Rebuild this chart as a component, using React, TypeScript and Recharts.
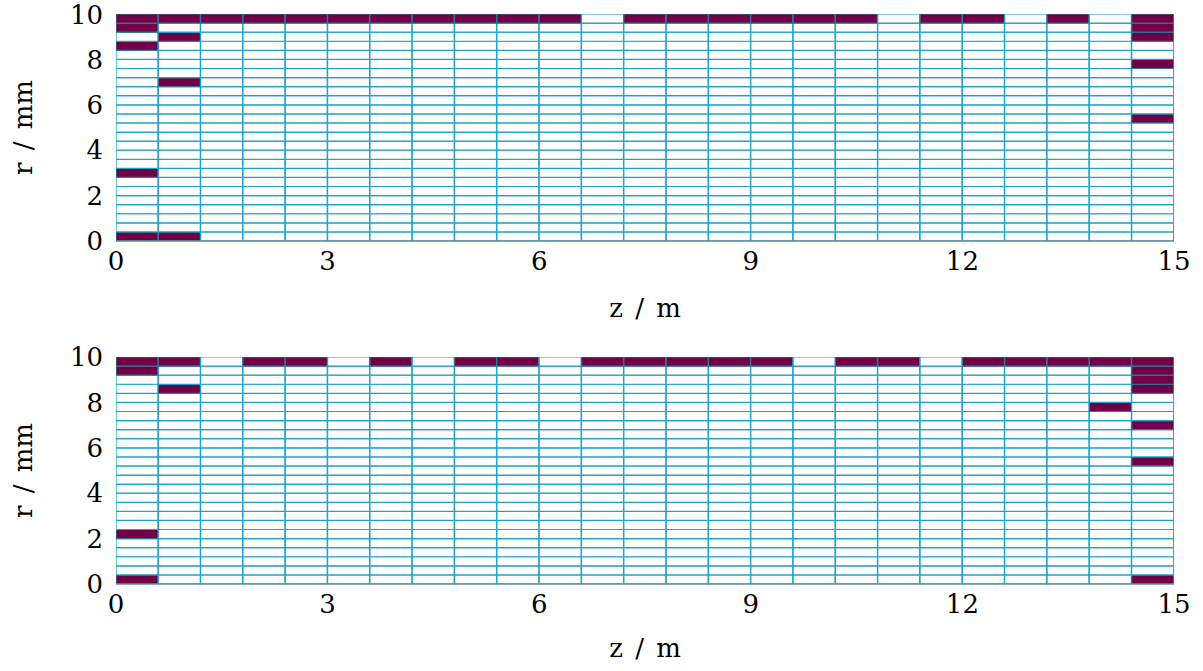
import { Bar, BarChart, Cell, XAxis, YAxis } from "recharts";

// column edges along z (m) and row edges along r (mm)
const Z_EDGES = [0, 0.6, 1.2, 1.8, 2.4, 3, 3.6, 4.2, 4.8, 5.4, 6, 6.6, 7.2, 7.8, 8.4, 9, 9.6, 10.2, 10.8, 11.4, 12, 12.6, 13.2, 13.8, 14.4, 15];
const R_EDGES = [0, 0.4, 0.8, 1.2, 1.6, 2, 2.4, 2.8, 3.2, 3.6, 4, 4.4, 4.8, 5.2, 5.6, 6, 6.4, 6.8, 7.2, 7.6, 8, 8.4, 8.8, 9.2, 9.6, 10];
const Z_TICKS = [0, 3, 6, 9, 12, 15];
const R_TICKS = [0, 2, 4, 6, 8, 10];

// filled cells: [row index (from r = 0), column indexes]
const TOP_FILLED: [number, number[]][] = [
  [24, [0, 1, 2, 3, 4, 5, 6, 7, 8, 9, 10, 12, 13, 14, 15, 16, 17, 19, 20, 22, 24]],
  [23, [0, 24]],
  [22, [1, 24]],
  [21, [0]],
  [19, [24]],
  [17, [1]],
  [13, [24]],
  [7, [0]],
  [0, [0, 1]],
];
const BOTTOM_FILLED: [number, number[]][] = [
  [24, [0, 1, 3, 4, 6, 8, 9, 11, 12, 13, 14, 15, 17, 18, 20, 21, 22, 23, 24]],
  [23, [0, 24]],
  [22, [24]],
  [21, [1, 24]],
  [19, [23]],
  [17, [24]],
  [13, [24]],
  [5, [0]],
  [0, [0, 24]],
];

const PURPLE = "#720046";
const GRID = "#1ba3c8";
const EDGE_DARK = "#2e7892";
const FONT = "DejaVu Serif";

type VB = { x: number; y: number; width: number; height: number };

function CellMap({ filled, height, top, zLabelDy }: { filled: [number, number[]][]; height: number; top: number; zLabelDy: number }) {
  const on = new Set(filled.flatMap(([r, cols]) => cols.map((c) => `${c}:${r}`)));
  const rows = R_EDGES.slice(0, -1);
  const data = Z_EDGES.slice(0, -1).map((z0, i) => {
    const d: Record<string, number> = { z: (z0 + Z_EDGES[i + 1]) / 2 };
    rows.forEach((r0, j) => {
      d[`r${j}`] = R_EDGES[j + 1] - r0;
    });
    return d;
  });
  const plotH = 227;
  const axisH = height - top - plotH;

  return (
    <BarChart
      width={1203}
      height={height}
      data={data}
      margin={{ top, right: 29, bottom: 0, left: 0 }}
      barCategoryGap={0}
      barGap={0}
    >
      <XAxis
        dataKey="z"
        type="number"
        domain={[0, 15]}
        allowDataOverflow
        ticks={Z_TICKS}
        height={axisH}
        tickLine={false}
        tickSize={6}
        tickMargin={5}
        axisLine={{ stroke: "#5a8d99", strokeWidth: 1.5 }}
        tick={{ fontFamily: FONT, fontSize: 26, fill: "#000" }}
        label={(p: { viewBox: VB }) => (
          <text
            x={p.viewBox.x + p.viewBox.width / 2}
            y={p.viewBox.y + zLabelDy}
            textAnchor="middle"
            fontFamily={FONT}
            fontSize={26}
            style={{ wordSpacing: 4 }}
          >
            z / m
          </text>
        )}
      />
      <YAxis
        type="number"
        domain={[0, 10]}
        allowDataOverflow
        ticks={R_TICKS}
        width={116}
        tickLine={false}
        axisLine={false}
        tickSize={6}
        tickMargin={7}
        tick={{ fontFamily: FONT, fontSize: 26, fill: "#000" }}
        label={(p: { viewBox: VB }) => {
          const cx = p.viewBox.x + 32;
          const cy = p.viewBox.y + p.viewBox.height / 2;
          return (
            <text
              x={cx}
              y={cy}
              textAnchor="middle"
              transform={`rotate(-90, ${cx}, ${cy})`}
              fontFamily={FONT}
              fontSize={26}
              style={{ wordSpacing: 4 }}
            >
              r / mm
            </text>
          );
        }}
      />
      {rows.map((_, j) => (
        <Bar key={j} dataKey={`r${j}`} stackId="cells" isAnimationActive={false} strokeWidth={1.2}>
          {data.map((_, i) => {
            const f = on.has(`${i}:${j}`);
            return <Cell key={i} fill={f ? PURPLE : "#ffffff"} stroke={f ? EDGE_DARK : GRID} />;
          })}
        </Bar>
      ))}
    </BarChart>
  );
}

export default function App() {
  return (
    <div style={{ position: "absolute", left: 0, top: 0, width: 1203, height: 671, background: "#fff" }}>
      <CellMap filled={TOP_FILLED} height={335} top={14} zLabelDy={76} />
      <CellMap filled={BOTTOM_FILLED} height={336} top={22} zLabelDy={73} />
    </div>
  );
}
